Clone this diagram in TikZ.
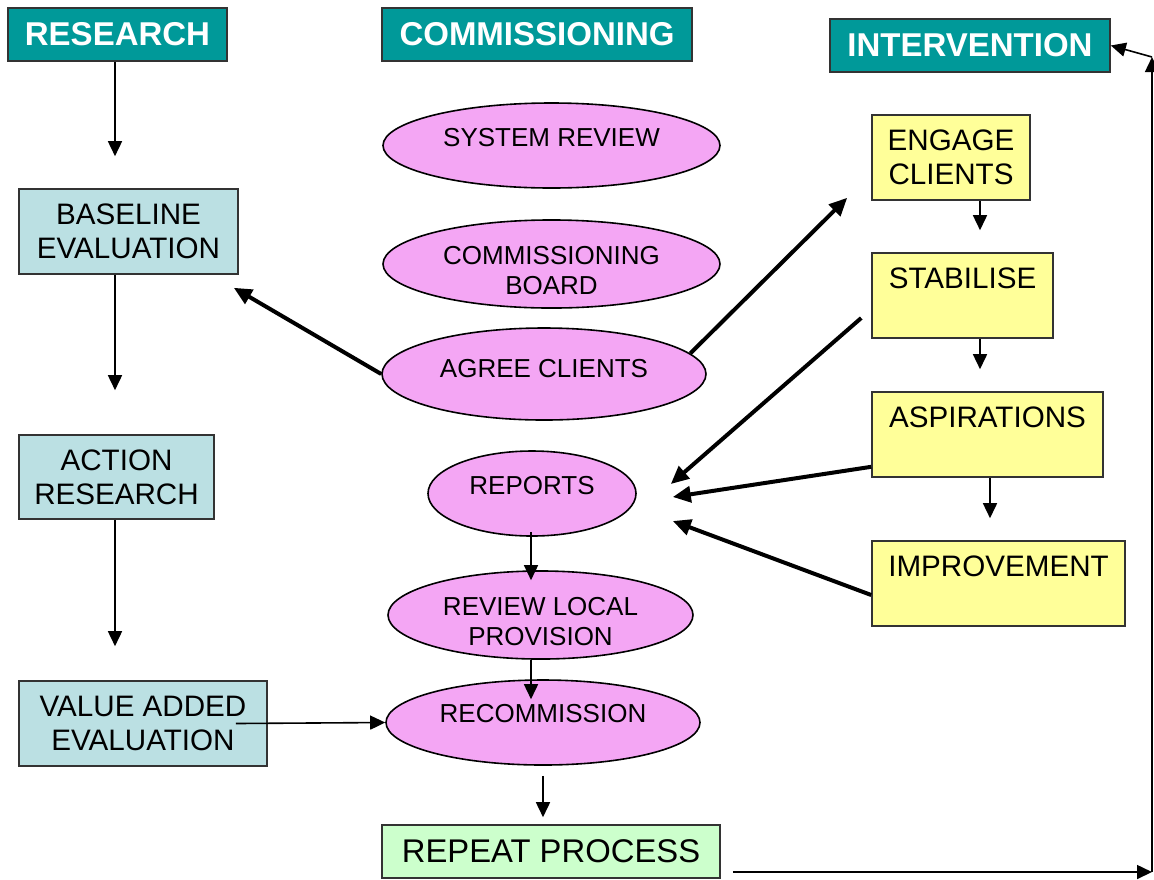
\documentclass[tikz,border=0pt]{standalone}
\usepackage{fontspec}
\setmainfont{Liberation Sans}
\usetikzlibrary{arrows.meta, calc, shapes.geometric}

\definecolor{tittelfarge}{HTML}{009999}
\definecolor{evalfarge}{HTML}{BBE0E3}
\definecolor{ovalfarge}{HTML}{F4A6F4}
\definecolor{stegfarge}{HTML}{FFFF99}
\definecolor{gjentafarge}{HTML}{CCFFCC}

\begin{document}
\begin{tikzpicture}[
    x = 0.5pt, y = -0.5pt,
    str/.style 2 args = {minimum width=#1*0.5pt, minimum height=#2*0.5pt},
    tittel/.style = {rectangle, draw=black!80, line width=0.8pt, fill=tittelfarge, text=white, inner sep=0pt,
                     font=\fontsize{16.5}{19}\selectfont\bfseries},
    punkt/.style = {rectangle, draw=black!80, line width=0.8pt, fill=evalfarge, inner sep=0pt, align=center,
                    font=\fontsize{14.8}{17}\selectfont},
    steg/.style = {punkt, fill=stegfarge},
    oval/.style = {ellipse, draw=black, line width=0.8pt, fill=ovalfarge, inner sep=0pt, align=center,
                   font=\fontsize{13}{15}\selectfont},
    pil/.style = {black, line width=0.8pt, -{Triangle[length=7.5pt, width=7pt]}},
    tykkpil/.style = {black, line width=2pt, -{Triangle[length=9pt, width=8pt]}}
    ]

  \useasboundingbox (0,0) rectangle (1154,879) ;

  % overskrifter
  \node[tittel, str={219}{53}] (research) at (117.5,34.5) {RESEARCH} ;
  \node[tittel, str={310}{53}] (commission) at (537,34.5) {COMMISSIONING} ;
  \node[tittel, str={280}{53}] (interv) at (970,45.5) {INTERVENTION} ;

  % forskning
  \node[punkt, str={219}{85}] (base) at (128.5,231.5) {BASELINE\\EVALUATION} ;
  \node[punkt, str={195}{84}] (action) at (116.5,477) {ACTION\\RESEARCH} ;
  \node[punkt, str={248}{85}] (value) at (143,723.5) {VALUE ADDED\\EVALUATION} ;

  % bestilling
  \node[oval, str={337}{85}, text depth=8pt] (sysrev) at (551.5,145.5) {SYSTEM REVIEW} ;
  \node[oval, str={337}{84}, text height=31pt] (board) at (551.5,264) {COMMISSIONING\\BOARD} ;
  \node[oval, str={324}{92}, text depth=6pt] (agree) at (544,374) {AGREE CLIENTS} ;
  \node[oval, str={208}{85}, text depth=8pt] (reports) at (532,493.5) {REPORTS} ;
  \node[oval, str={305}{84}, text height=31pt] (review) at (540.5,615) {REVIEW LOCAL\\PROVISION} ;
  \node[oval, str={314}{85}, text depth=9pt] (recomm) at (543,722.5) {RECOMMISSION} ;
  \node[punkt, str={338}{53}, fill=gjentafarge, font=\fontsize{16.4}{19}\selectfont] (repeat) at (551,851.5) {REPEAT PROCESS} ;

  % tiltak
  \node[steg, str={158}{85}] (engage) at (951,157.5) {ENGAGE\\CLIENTS} ;
  \node[steg, str={181}{85}] (stab) at (962.5,295.5) {STABILISE\\\mbox{}} ;
  \node[steg, str={231}{85}] (asp) at (987.5,434.5) {ASPIRATIONS\\\mbox{}} ;
  \node[steg, str={253}{85}] (impr) at (998.5,583.5) {IMPROVEMENT\\\mbox{}} ;

  \coordinate (venstre) at (115,0) ;
  \coordinate (midt) at (531,0) ;
  \coordinate (hoyre) at (980,0) ;
  \coordinate (hoyre2) at (990,0) ;
  \coordinate (ut) at ($(repeat.east)+(12,20.5)$) ;
  \coordinate (hjorne) at (1152,872) ;
  \coordinate (topp) at (1152,57) ;

  \path[every edge/.append style={pil}]
  (research.south -| venstre) edge[shorten >=16pt] (base.north -| venstre)
  (base.south -| venstre) edge[shorten >=22pt] (action.north -| venstre)
  (action.south -| venstre) edge[shorten >=17pt] (value.north -| venstre)
  ([xshift=-16pt]value.east) edge (recomm.west)

  (reports.south -| midt) edge[shorten <=-2.5pt, shorten >=-5pt] (review.north -| midt)
  (review.south -| midt) edge[shorten >=-10pt] (recomm.north -| midt)
  (recomm.south) edge[shorten <=5pt, shorten >=3.5pt] (recomm.south |- repeat.north)

  (engage.south -| hoyre) edge[shorten >=11pt] (stab.north -| hoyre)
  (stab.south -| hoyre) edge[shorten >=11pt] (asp.north -| hoyre)
  (asp.south -| hoyre2) edge[shorten >=11pt] (impr.north -| hoyre2)

  (ut) edge (hjorne)
  (hjorne) edge (topp)
  (topp) edge (interv.east) ;

  \path[every edge/.append style={tykkpil}]
  (agree.west) edge ($(base.south east)+(-5,13)$)
  (agree.8) edge ($(engage.south west)+(-24,-3)$)
  ($(stab.west)+(-10,22.5)$) edge ($(reports.east)+(34,-9.5)$)
  ($(asp.south west)+(0,-11)$) edge ($(reports.east)+(36,3.5)$)
  ($(impr.west)+(0,11.5)$) edge ($(reports.east)+(36,27.5)$) ;

\end{tikzpicture}
\end{document}
